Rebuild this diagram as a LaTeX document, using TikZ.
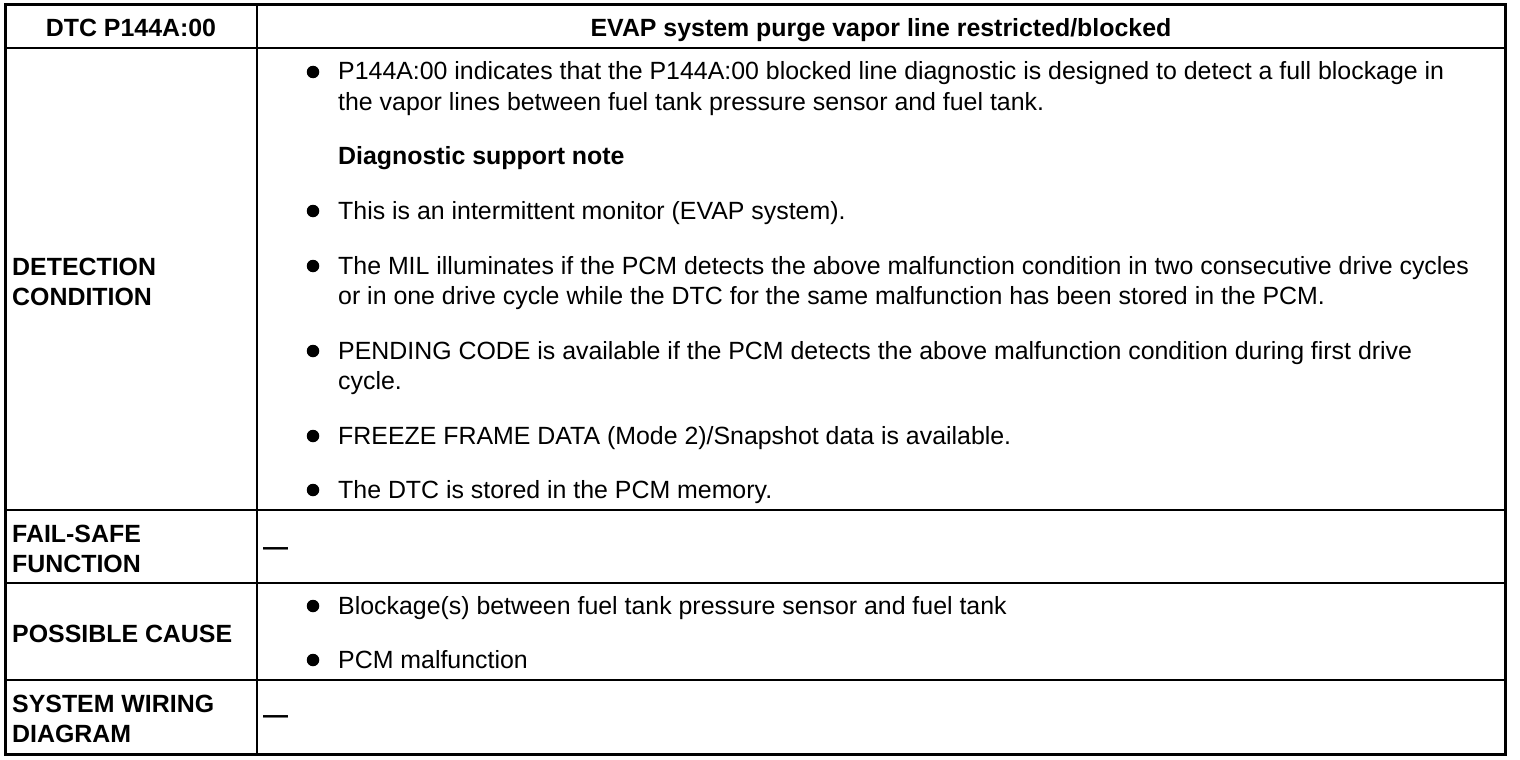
\documentclass[tikz,border=0pt]{standalone}
\usepackage{fontspec}
\setmainfont{Liberation Sans}
\begin{document}
\begin{tikzpicture}[x=1pt,y=-1pt,
  txt/.style={anchor=base west, inner sep=0pt, font=\fontsize{24.9}{30}\selectfont},
  lbl/.style={anchor=base west, inner sep=0pt, font=\fontsize{24.9}{30}\selectfont\bfseries},
  hdr/.style={anchor=base, inner sep=0pt, font=\fontsize{24.9}{30}\selectfont\bfseries},
  dashtxt/.style={anchor=base west, inner sep=0pt, font=\fontsize{25}{30}\selectfont\bfseries},
  bul/.style={circle, fill=black, inner sep=0pt, minimum size=12.5pt},
  gridline/.style={line width=1.2pt},
  frameline/.style={line width=3pt}]
\useasboundingbox (0,0) rectangle (1520,760);
% grid
\draw[gridline] (257,5) -- (257,754);
\draw[gridline] (5,48) -- (1505,48);
\draw[gridline] (5,510) -- (1505,510);
\draw[gridline] (5,583) -- (1505,583);
\draw[gridline] (5,680) -- (1505,680);
\draw[frameline] (5,5) rectangle (1505,754);
% header
\node[hdr] (h1) at (131,37) {DTC P144A:00};
\node[hdr] (h2) at (881,37) {EVAP system purge vapor line restricted/blocked};
% left labels
\node[lbl] (l1a) at (12,275) {DETECTION};
\node[lbl] (l1b) at (12,305) {CONDITION};
\node[lbl] (l2a) at (12,542) {FAIL-SAFE};
\node[lbl] (l2b) at (12,572) {FUNCTION};
\node[lbl] (l3) at (12,642) {POSSIBLE CAUSE};
\node[lbl] (l4a) at (12,712) {SYSTEM WIRING};
\node[lbl] (l4b) at (12,742) {DIAGRAM};
% detection condition
\node[bul] (b1) at (313,72) {};
\node[txt] (t1a) at (338,80) {P144A:00 indicates that the P144A:00 blocked line diagnostic is designed to detect a full blockage in};
\node[txt] (t1b) at (338,110) {the vapor lines between fuel tank pressure sensor and fuel tank.};
\node[lbl] (t2) at (338,164) {Diagnostic support note};
\node[bul] (b3) at (313,211) {};
\node[txt] (t3) at (338,219) {This is an intermittent monitor (EVAP system).};
\node[bul] (b4) at (313,266) {};
\node[txt] (t4a) at (338,274) {The MIL illuminates if the PCM detects the above malfunction condition in two consecutive drive cycles};
\node[txt] (t4b) at (338,304) {or in one drive cycle while the DTC for the same malfunction has been stored in the PCM.};
\node[bul] (b5) at (313,351) {};
\node[txt] (t5a) at (338,359) {PENDING CODE is available if the PCM detects the above malfunction condition during first drive};
\node[txt] (t5b) at (338,389) {cycle.};
\node[bul] (b6) at (313,436) {};
\node[txt] (t6) at (338,444) {FREEZE FRAME DATA (Mode 2)/Snapshot data is available.};
\node[bul] (b7) at (313,490) {};
\node[txt] (t7) at (338,498) {The DTC is stored in the PCM memory.};
% fail-safe
\node[dashtxt] (d1) at (263,555) {—};
% possible cause
\node[bul] (b8) at (313,606) {};
\node[txt] (t8) at (338,614) {Blockage(s) between fuel tank pressure sensor and fuel tank};
\node[bul] (b9) at (313,660) {};
\node[txt] (t9) at (338,668) {PCM malfunction};
% wiring
\node[dashtxt] (d2) at (263,723) {—};
\end{tikzpicture}
\end{document}
